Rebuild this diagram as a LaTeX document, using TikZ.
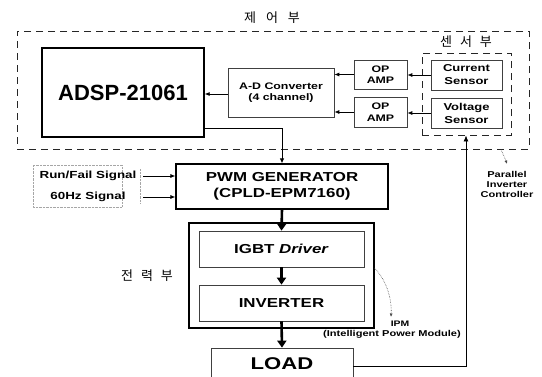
\documentclass[tikz,border=0pt]{standalone}
\usepackage{fontspec}
\setmainfont{Liberation Sans}
\newfontfamily\wide[FakeStretch=1.3]{Liberation Sans}
\newfontfamily\kr{Noto Sans CJK KR}
\usetikzlibrary{arrows.meta}
\newcommand{\fsz}[1]{\fontsize{#1}{#1}\selectfont}
\begin{document}
\begin{tikzpicture}[x=1pt,y=-1pt,
  thickbox/.style={draw=black,line width=1.3pt,inner sep=0pt,align=center},
  thinbox/.style={draw=black!75,line width=0.7pt,inner sep=0pt,align=center},
  dashbox/.style={draw=black!85,line width=0.9pt,dash pattern=on 7pt off 5pt,inner sep=0pt},
  lbl/.style={inner sep=0pt,align=center,font=\wide\bfseries},
  krl/.style={inner sep=0pt,font=\kr\fsz{13}},
  sarrow/.style={line width=0.8pt,-{Latex[length=5pt,width=4pt]}},
  barrow/.style={line width=2.6pt,-{Triangle[length=7pt,width=9pt]}},
  dotarrow/.style={black!70,line width=0.6pt,densely dotted,-{Latex[length=3.5pt,width=3pt]}}]
\useasboundingbox (0,0) rectangle (542,376);
\fill[white] (0,0) rectangle (542,376);
% control part
\node[dashbox,minimum width=512pt,minimum height=118pt] (ctrl) at (273,90) {};
\node[krl] (t1) at (272,18) {제\hspace{10pt}어\hspace{10pt}부};
\node[thickbox,minimum width=162pt,minimum height=89pt,font=\bfseries\fsz{22}] (adsp) at (123,92.5) {ADSP-21061};
\node[thinbox,minimum width=106pt,minimum height=49pt,font=\wide\bfseries\fsz{9.5}] (ad) at (281,92.5) {A-D Converter\\[2pt](4 channel)};
\node[thinbox,minimum width=53pt,minimum height=29pt,font=\wide\bfseries\fsz{9.5}] (op1) at (380.5,74.5) {OP\\[2pt]AMP};
\node[thinbox,minimum width=53pt,minimum height=30pt,font=\wide\bfseries\fsz{9.5}] (op2) at (380.5,112) {OP\\[2pt]AMP};
\node[dashbox,minimum width=89pt,minimum height=82pt] (sens) at (466.5,94) {};
\node[krl] (t2) at (466,42) {센\hspace{8pt}서\hspace{8pt}부};
\node[thinbox,minimum width=71pt,minimum height=30pt,font=\wide\bfseries\fsz{10}] (cur) at (466.5,75) {Current\\[3pt]Sensor};
\node[thinbox,minimum width=71pt,minimum height=30pt,font=\wide\bfseries\fsz{10}] (vol) at (466.5,113) {Voltage\\[3pt]Sensor};
% PWM
\node[thickbox,line width=1.1pt,minimum width=212pt,minimum height=45pt,font=\wide\bfseries\fsz{13}] (pwm) at (282,186.5) {PWM GENERATOR\\[3pt](CPLD-EPM7160)};
\draw[black!35,densely dotted,line width=0.4pt] (33,165) rectangle (122,207);
\node[lbl,font=\wide\bfseries\fsz{10.3}] (rf) at (88,176) {Run/Fail Signal};
\node[lbl,font=\wide\bfseries\fsz{10.3}] (hz) at (88,197) {60Hz Signal};
\coordinate (rfs) at (143,176);
\coordinate (hzs) at (143,197);
\draw[black!35,densely dotted,line width=0.4pt] (140,169) -- (140,203);
% power part
\node[thickbox,line width=1.1pt,minimum width=185pt,minimum height=105pt] (ipm) at (281.5,275.5) {};
\node[thinbox,minimum width=165pt,minimum height=36pt,font=\wide\bfseries\fsz{13}] (igbt) at (281.5,249) {IGBT \textit{Driver}};
\node[thinbox,minimum width=165pt,minimum height=36pt,font=\wide\bfseries\fsz{13}] (inv) at (281.5,303) {INVERTER};
\node[krl] (t3) at (147,276) {전\hspace{8pt}력\hspace{8pt}부};
\node[thinbox,minimum width=142pt,minimum height=36pt,font=\wide\bfseries\fsz{17}] (load) at (282,366) {\raisebox{5pt}{LOAD}};
% labels
\node[lbl,font=\wide\bfseries\fsz{8.5}] (pic) at (507,184) {Parallel\\[1.5pt]Inverter\\[1.5pt]Controller};
\node[lbl,font=\wide\bfseries\fsz{8}] (ipml) at (400,324) {IPM};
\node[lbl,font=\wide\bfseries\fsz{8.5}] (ipmf) at (392,334) {(Intelligent Power Module)};
% connectors
\draw[sarrow] (ad.west |- 0,94) -- (adsp.east |- 0,94);
\draw[sarrow] (op1.west) -- (op1.west -| ad.east);
\draw[sarrow] (op2.west) -- (op2.west -| ad.east);
\draw[sarrow] (cur.west) -- (cur.west -| op1.east);
\draw[sarrow] (vol.west) -- (vol.west -| op2.east);
\coordinate (c1) at (282,128);
\draw[line width=1pt,-{Latex[length=5pt,width=4.5pt]}] (c1 -| adsp.east) -- (c1) -- (pwm.north);
\draw[sarrow] (rfs) -- (rfs -| pwm.west);
\draw[sarrow] (hzs) -- (hzs -| pwm.west);
\draw[barrow] (pwm.south) -- (igbt.north);
\draw[barrow] (igbt.south) -- (inv.north);
\draw[barrow] (inv.south) -- (load.north);
\coordinate (fb) at (466,366);
\draw[line width=0.8pt,-{Latex[length=6pt,width=5pt]}] (load.east) -- (fb) -- (fb |- sens.south);
\coordinate (ipmtip) at (391,317);
\draw[dotarrow] (ipm.east |- 0,268) .. controls (386,280) and (392,298) .. (ipmtip);
\coordinate (ctip) at (507,164);
\draw[dotarrow] (ctrl.south east -| 501,0) .. controls (504,155) .. (ctip);
\end{tikzpicture}
\end{document}
